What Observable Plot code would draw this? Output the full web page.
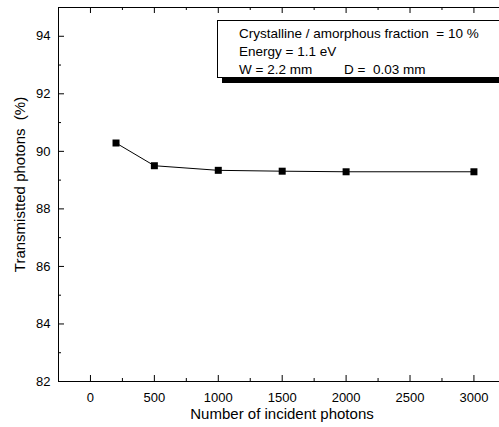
<!DOCTYPE html>
<html>
<head>
<meta charset="utf-8">
<script src="https://cdn.jsdelivr.net/npm/d3@7"></script>
<script src="https://cdn.jsdelivr.net/npm/@observablehq/plot@0.6"></script>
<style>
  body { margin: 0; background: #fff; }
  #chart svg { display: block; font-family: "Liberation Sans", Arial, sans-serif; }
</style>
</head>
<body>
<div id="chart"></div>
<script>
// Transmitted photons vs. number of incident photons
const incidentPhotons = [200, 500, 1000, 1500, 2000, 3000];
const transmittedPct = [90.29, 89.50, 89.34, 89.31, 89.29, 89.29];

const xMajorTicks = [0, 500, 1000, 1500, 2000, 2500, 3000];
const xMinorTicks = [250, 750, 1250, 1750, 2250, 2750];
const yMajorTicks = [82, 84, 86, 88, 90, 92, 94];
const yMinorTicks = [83, 85, 87, 89, 91, 93];

const xTitle = "Number of incident photons";
const yTitle = "Transmistted photons  (%)";
const legendLines = [
  ["Crystalline / amorphous fraction  = 10 %"],
  ["Energy = 1.1 eV"],
  ["W = 2.2 mm", "D =  0.03 mm"]
];

const data = incidentPhotons.map((x, i) => ({x, y: transmittedPct[i]}));

const W = 499, H = 427;
const margin = {left: 58, top: 7, right: 0, bottom: 46};
const innerW = W - margin.left - margin.right;
const innerH = H - margin.top - margin.bottom;
const xDomain = [-250, 3200];
const yDomain = [82, 95];

const major = 6, minor = 3;

const plot = Plot.plot({
  width: W,
  height: H,
  marginLeft: margin.left,
  marginTop: margin.top,
  marginRight: margin.right,
  marginBottom: margin.bottom,
  style: {fontFamily: "'Liberation Sans', Arial, sans-serif", fontSize: "13px", color: "#000", background: "#fff"},
  x: {domain: xDomain},
  y: {domain: yDomain},
  marks: [
    // axis lines (left, bottom, top)
    Plot.ruleX([xDomain[0]], {stroke: "#000", strokeWidth: 1}),
    Plot.ruleY([yDomain[0], yDomain[1]], {stroke: "#000", strokeWidth: 1}),
    // inward ticks on bottom and top
    Plot.tickX(xMajorTicks, {x: d => d, insetTop: innerH - major, stroke: "#000"}),
    Plot.tickX(xMinorTicks, {x: d => d, insetTop: innerH - minor, stroke: "#000"}),
    Plot.tickX(xMajorTicks, {x: d => d, insetBottom: innerH - major, stroke: "#000"}),
    Plot.tickX(xMinorTicks, {x: d => d, insetBottom: innerH - minor, stroke: "#000"}),
    // inward ticks on the left
    Plot.tickY(yMajorTicks, {y: d => d, insetRight: innerW - major, stroke: "#000"}),
    Plot.tickY(yMinorTicks, {y: d => d, insetRight: innerW - minor, stroke: "#000"}),
    // tick labels
    Plot.axisX({ticks: xMajorTicks, tickSize: 0, tickPadding: 11, tickFormat: "d", label: null, fontSize: 13}),
    Plot.axisY({ticks: yMajorTicks, tickSize: 0, tickPadding: 8, tickFormat: "d", label: null, fontSize: 13}),
    // axis titles
    Plot.text([xTitle], {text: d => d, frameAnchor: "bottom", textAnchor: "middle", lineAnchor: "middle", dx: 3, dy: 33, fontSize: 15}),
    Plot.text([yTitle], {text: d => d, frameAnchor: "left", textAnchor: "middle", lineAnchor: "middle", dx: -38, dy: -10, rotate: -90, fontSize: 15}),
    // data
    Plot.line(data, {x: "x", y: "y", stroke: "#000", strokeWidth: 1}),
    Plot.dot(data, {x: "x", y: "y", symbol: "square", r: 3.95, fill: "#000", stroke: "none"})
  ]
});

document.getElementById("chart").appendChild(plot);

// annotation box with drop shadow, top right
const svg = d3.select(plot);
const box = {x: 217, y: 20, w: 300, h: 57, shadow: 5};
const g = svg.append("g").attr("text-anchor", "start");
g.append("rect")
  .attr("x", box.x + box.shadow).attr("y", box.y + box.shadow)
  .attr("width", box.w).attr("height", box.h + 1)
  .attr("fill", "#000");
g.append("rect")
  .attr("x", box.x + 0.5).attr("y", box.y + 0.5)
  .attr("width", box.w).attr("height", box.h)
  .attr("fill", "#fff").attr("stroke", "#000").attr("stroke-width", 1);
const lineX = [239, 344];
legendLines.forEach((parts, i) => {
  parts.forEach((t, j) => {
    g.append("text")
      .attr("x", lineX[j]).attr("y", 38 + i * 18)
      .attr("font-size", 13.5)
      .attr("text-anchor", "start")
      .attr("fill", "#000")
      .style("white-space", "pre")
      .text(t);
  });
});
</script>
</body>
</html>
